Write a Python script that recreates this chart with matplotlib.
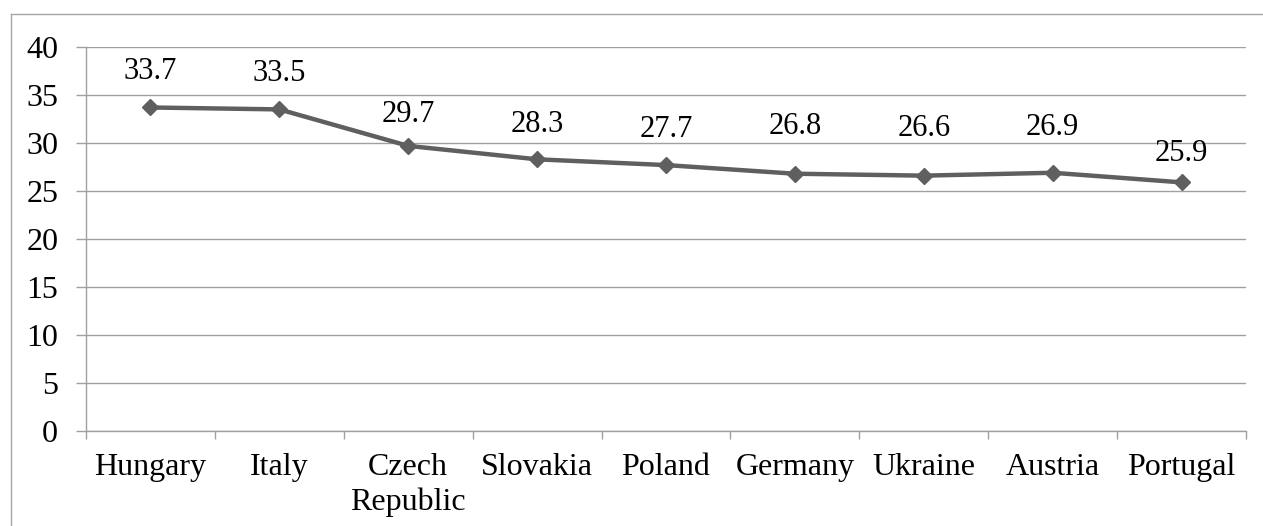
import matplotlib.pyplot as plt
from matplotlib.lines import Line2D

countries = ['Hungary', 'Italy', 'Czech\nRepublic', 'Slovakia', 'Poland',
             'Germany', 'Ukraine', 'Austria', 'Portugal']
values = [33.7, 33.5, 29.7, 28.3, 27.7, 26.8, 26.6, 26.9, 25.9]
yticks = [0, 5, 10, 15, 20, 25, 30, 35, 40]

# label offsets above each point (pixels), as placed in the original
label_dy = [36, 36, 31, 35, 36, 47, 47, 45, 29]

plt.rcParams['font.family'] = ['Liberation Serif', 'DejaVu Serif']

W, H = 1263, 526
fig = plt.figure(figsize=(W / 100, H / 100), dpi=100)
ax = fig.add_axes([86 / W, 1 - 431 / H, (1246 - 86) / W, (431 - 47) / H])

grey = '#a0a0a0'
x = list(range(len(countries)))
ax.plot(x, values, color='#5f5f5f', lw=3.2, marker='D', ms=8.5,
        mfc='#5f5f5f', mec='#5f5f5f', zorder=3)

for xi, v, dy in zip(x, values, label_dy):
    ax.annotate(f'{v}', (xi, v), xytext=(0, dy * 0.72), textcoords='offset points',
                ha='center', va='center', fontsize=22)

ax.set_xlim(-0.5, len(countries) - 0.5)
ax.set_ylim(0, 40)
ax.set_yticks(yticks)
ax.yaxis.grid(True, color=grey, lw=1)
ax.set_axisbelow(True)

ax.set_xticks([i - 0.5 for i in range(len(countries) + 1)], minor=False)
ax.set_xticklabels([])
ax.set_xticks(x, minor=True)
ax.set_xticklabels(countries, minor=True, fontsize=23, linespacing=1.22)
ax.tick_params(axis='x', which='major', length=6, color=grey, width=1)
ax.tick_params(axis='x', which='minor', length=0, pad=16)
ax.tick_params(axis='y', length=7, color=grey, width=1, labelsize=23, pad=13)

for s in ['top', 'right']:
    ax.spines[s].set_visible(False)
for s in ['left', 'bottom']:
    ax.spines[s].set_color(grey)
    ax.spines[s].set_linewidth(1)

# outer chart frame (only top and left edges fall inside the picture)
bx, by = 10.5 / W, 1 - 13.5 / H
fig.lines.append(Line2D([bx, 1], [by, by], transform=fig.transFigure, color='#a6a6a6', lw=1))
fig.lines.append(Line2D([bx, bx], [0, by], transform=fig.transFigure, color='#a6a6a6', lw=1))

fig.savefig('out.png', dpi=100)
